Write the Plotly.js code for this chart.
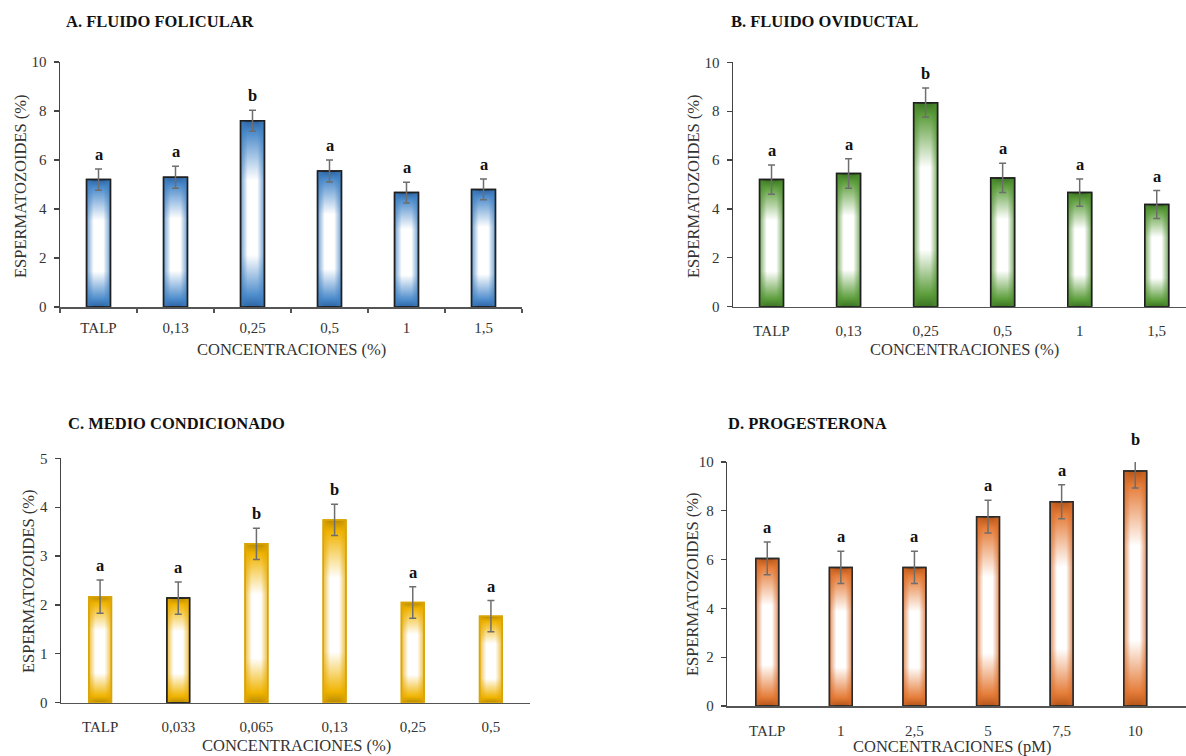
<!DOCTYPE html>
<html>
<head>
<meta charset="utf-8">
<script src="https://cdn.plot.ly/plotly-3.0.1.min.js"></script>
<style>
html,body{margin:0;padding:0;background:#fff;}
#plot{width:1186px;height:756px;}
</style>
</head>
<body>
<div id="plot"></div>
<script>
// ---- Data ----
const catsA = ['TALP','0,13','0,25','0,5','1','1,5'];
const valsA = [5.2, 5.3, 7.6, 5.55, 4.67, 4.8];
const errA  = [0.43, 0.45, 0.43, 0.45, 0.42, 0.42];
const letA  = ['a','a','b','a','a','a'];

const catsB = ['TALP','0,13','0,25','0,5','1','1,5'];
const valsB = [5.2, 5.45, 8.35, 5.27, 4.67, 4.18];
const errB  = [0.6, 0.6, 0.6, 0.6, 0.56, 0.57];
const letB  = ['a','a','b','a','a','a'];

const catsC = ['TALP','0,033','0,065','0,13','0,25','0,5'];
const valsC = [2.17, 2.14, 3.25, 3.74, 2.05, 1.77];
const errC  = [0.34, 0.33, 0.32, 0.32, 0.32, 0.32];
const letC  = ['a','a','b','b','a','a'];

const catsD = ['TALP','1','2,5','5','7,5','10'];
const valsD = [6.05, 5.68, 5.68, 7.76, 8.37, 9.63];
const errD  = [0.67, 0.66, 0.66, 0.67, 0.70, 0.70];
const letD  = ['a','a','a','a','a','b'];

const titles = ['A. FLUIDO FOLICULAR','B. FLUIDO OVIDUCTAL','C. MEDIO CONDICIONADO','D. PROGESTERONA'];
const xTitles = ['CONCENTRACIONES (%)','CONCENTRACIONES (%)','CONCENTRACIONES (%)','CONCENTRACIONES (pM)'];
const yTitle = 'ESPERMATOZOIDES (%)';

// ---- Styling ----
const W = 1186, H = 756;
const FONT = '"Liberation Serif", "Times New Roman", serif';
const px = v => v / W;
const py = v => (H - v) / H;

const panels = [
  {cats:catsA, vals:valsA, err:errA, let:letA, base:'#4a86c6', edge:'#1f1f1f', width:0.31,
   xd:[px(60), px(522)], xr:[-0.5,5.5], yd:[py(307), py(62)], yr:[0,10], dtick:2, xticks:true},
  {cats:catsB, vals:valsB, err:errB, let:letB, base:'#5a9a3a', edge:'#1f1f1f', width:0.31,
   xd:[px(733), 1], xr:[-0.5,5.38], yd:[py(306.7), py(62.3)], yr:[0,10], dtick:2, xticks:false},
  {cats:catsC, vals:valsC, err:errC, let:letC, base:'#e6ac08', edge:['#d9a406','#1f1f1f','#d9a406','#d9a406','#d9a406','#d9a406'], width:0.29,
   xd:[px(61), px(530)], xr:[-0.5,5.5], yd:[py(702.7), py(458.3)], yr:[0,5], dtick:1, xticks:false},
  {cats:catsD, vals:valsD, err:errD, let:letD, base:'#de7331', edge:'#2a2a2a', width:0.31,
   xd:[px(727.3), 1], xr:[-0.543,5.69], yd:[py(706), py(462)], yr:[0,10], dtick:2, xticks:false}
];

const titlePos = [[64,22],[729,21],[66,423],[726,423]];
const yTitlePos = [[20,186],[693,186],[28,581],[692,584]];
const xTitlePos = [[291,350],[964,349],[296,745],[952,746]];

const data = [];
const layout = {
  width: W, height: H,
  margin: {l:0, r:0, t:0, b:0},
  paper_bgcolor: '#fff', plot_bgcolor: 'rgba(0,0,0,0)',
  showlegend: false,
  barmode: 'group',
  font: {family: FONT, color: '#262626'},
  annotations: []
};

panels.forEach((p, i) => {
  const s = i === 0 ? '' : String(i + 1);
  data.push({
    type: 'bar',
    x: p.cats, y: p.vals,
    xaxis: 'x' + s, yaxis: 'y' + s,
    width: p.width,
    marker: {color: p.base, line: {color: p.edge, width: 1.5}},
    error_y: {type: 'data', array: p.err, visible: true, color: '#6e6e6e', thickness: 1.5, width: 3.5},
    cliponaxis: true,
    hoverinfo: 'x+y'
  });
  layout['xaxis' + s] = {
    domain: p.xd, range: p.xr, type: 'category', anchor: 'y' + s,
    showgrid: false, zeroline: false,
    showline: true, linecolor: '#555', linewidth: 1.5,
    ticks: p.xticks ? 'outside' : '', ticklen: 4, tickwidth: 1.2, tickcolor: '#555',
    tickson: p.xticks ? 'boundaries' : 'labels',
    ticklabelstandoff: p.xticks ? 6 : 10,
    tickfont: {family: FONT, size: 15, color: '#333'},
    fixedrange: true
  };
  layout['yaxis' + s] = {
    domain: p.yd, range: p.yr, anchor: 'x' + s,
    dtick: p.dtick, tick0: 0,
    showgrid: false, zeroline: false,
    showline: true, linecolor: '#444', linewidth: 1.5,
    ticks: 'outside', ticklen: 5, tickwidth: 1.2, tickcolor: '#444',
    ticklabelstandoff: 4,
    tickfont: {family: FONT, size: 15, color: '#333'},
    fixedrange: true
  };
  // significance letters: x = category index, y in axis-domain units (so it may sit above the range)
  const span = p.yr[1] - p.yr[0];
  p.cats.forEach((c, k) => {
    layout.annotations.push({
      xref: 'x' + s, yref: 'y' + s + ' domain', x: k, y: (p.vals[k] + p.err[k] - p.yr[0]) / span,
      text: '<b>' + p.let[k] + '</b>', showarrow: false,
      yanchor: 'bottom', yshift: 3,
      font: {family: FONT, size: 16.5, color: '#111'}
    });
  });
  // panel titles
  layout.annotations.push({
    xref: 'paper', yref: 'paper', x: px(titlePos[i][0]), y: py(titlePos[i][1]),
    xanchor: 'left', yanchor: 'middle', showarrow: false,
    text: '<b>' + titles[i] + '</b>',
    font: {family: FONT, size: 16.5, color: '#111'}
  });
  // y titles
  layout.annotations.push({
    xref: 'paper', yref: 'paper', x: px(yTitlePos[i][0]), y: py(yTitlePos[i][1]),
    xanchor: 'center', yanchor: 'middle', showarrow: false, textangle: -90,
    text: yTitle, font: {family: FONT, size: 16.5, color: '#333'}
  });
  // x titles
  layout.annotations.push({
    xref: 'paper', yref: 'paper', x: px(xTitlePos[i][0]), y: py(xTitlePos[i][1]),
    xanchor: 'center', yanchor: 'middle', showarrow: false,
    text: xTitles[i], font: {family: FONT, size: 16.5, color: '#333'}
  });
});

// gradient definitions (style only)
const grads = [
  {dark:'#2c63a3', mid:'#4c8bcb', side:'#3f7fc0'},
  {dark:'#3a7322', mid:'#5d9e3c', side:'#4f8f30'},
  {dark:'#b78a00', mid:'#f0b400', side:'#e6a800'},
  {dark:'#b45418', mid:'#e57d3a', side:'#d96a26'}
];

Plotly.newPlot('plot', data, layout, {staticPlot: true, displayModeBar: false}).then(gd => {
  const svg = gd.querySelector('.main-svg');
  const NS = 'http://www.w3.org/2000/svg';
  let defs = svg.querySelector('defs');
  if (!defs) { defs = document.createElementNS(NS, 'defs'); svg.insertBefore(defs, svg.firstChild); }
  const mk = (id, horiz, stops) => {
    const g = document.createElementNS(NS, 'linearGradient');
    g.setAttribute('id', id);
    g.setAttribute('x1', '0'); g.setAttribute('y1', '0');
    g.setAttribute('x2', horiz ? '1' : '0'); g.setAttribute('y2', horiz ? '0' : '1');
    stops.forEach(st => {
      const e = document.createElementNS(NS, 'stop');
      e.setAttribute('offset', st[0]);
      e.setAttribute('stop-color', st[1]);
      e.setAttribute('stop-opacity', st[2] === undefined ? 1 : st[2]);
      g.appendChild(e);
    });
    defs.appendChild(g);
  };
  grads.forEach((g, i) => {
    mk('gv' + i, false, [[0, g.dark],[0.06, g.mid],[0.32, '#ffffff'],[0.72, '#ffffff'],[0.94, g.mid],[1, g.dark]]);
    mk('gh' + i, true, [[0, g.side, 0.75],[0.3, g.side, 0],[0.7, g.side, 0],[1, g.side, 0.75]]);
  });
  const traces = gd.querySelectorAll('.barlayer .trace');
  traces.forEach((tr, i) => {
    tr.querySelectorAll('.point').forEach(pt => {
      const path = pt.querySelector('path');
      if (!path) return;
      const stroke = path.style.stroke;
      const sw = path.style.strokeWidth;
      path.style.fill = 'url(#gv' + i + ')';
      const over = path.cloneNode(true);
      over.style.fill = 'url(#gh' + i + ')';
      over.style.stroke = 'none';
      pt.insertBefore(over, path.nextSibling);
      const outline = path.cloneNode(true);
      outline.style.fill = 'none';
      outline.style.stroke = stroke;
      outline.style.strokeWidth = sw;
      pt.insertBefore(outline, over.nextSibling);
    });
  });
});
</script>
</body>
</html>
